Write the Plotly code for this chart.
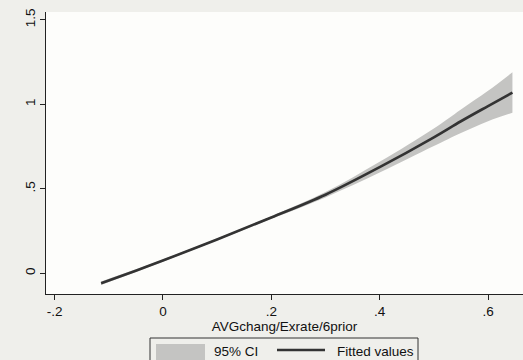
import plotly.graph_objects as go

# Data
x_vals = [-0.114, -0.05, 0.0, 0.1, 0.2, 0.3, 0.4, 0.5, 0.55, 0.6, 0.645]
fitted = [-0.059, 0.015, 0.075, 0.200, 0.330, 0.465, 0.628, 0.805, 0.900, 0.990, 1.070]
ci_half = [0.010, 0.008, 0.007, 0.005, 0.008, 0.016, 0.032, 0.052, 0.070, 0.090, 0.120]

x_ticks = [-0.2, 0, 0.2, 0.4, 0.6]
x_ticktext = ["-.2", "0", ".2", ".4", ".6"]
y_ticks = [0, 0.5, 1, 1.5]
y_ticktext = ["0", ".5", "1", "1.5"]

upper = [f + h for f, h in zip(fitted, ci_half)]
lower = [f - h for f, h in zip(fitted, ci_half)]

CI_COLOR = "#c4c4c2"
LINE_COLOR = "#333333"

fig = go.Figure()
fig.add_trace(go.Scatter(x=x_vals, y=upper, mode="lines", line=dict(width=0, color=CI_COLOR),
                         showlegend=False, hoverinfo="skip", line_shape="spline"))
fig.add_trace(go.Scatter(x=x_vals, y=lower, mode="lines", line=dict(width=0, color=CI_COLOR),
                         fill="tonexty", fillcolor=CI_COLOR, name="95% CI", line_shape="spline",
                         showlegend=False))
fig.add_trace(go.Scatter(x=x_vals, y=fitted, mode="lines", line=dict(width=2.6, color=LINE_COLOR),
                         name="Fitted values", line_shape="spline", showlegend=False))

font = dict(family="Liberation Sans, Arial, sans-serif", size=13.5, color="#111")

# Manual Stata-style legend (paper coordinates)
W, H, L, B = 477, 282, 46, 66
def px(x):
    return (x - L) / W
def py(y):
    return (360 - B - y) / H

shapes = [
    dict(type="rect", xref="paper", yref="paper", x0=px(150), x1=px(418), y0=py(338), y1=py(366),
         line=dict(color="#333", width=1), fillcolor="#efefeb", layer="above"),
    dict(type="rect", xref="paper", yref="paper", x0=px(156), x1=px(205), y0=py(344), y1=py(362),
         line=dict(width=0), fillcolor=CI_COLOR, layer="above"),
    dict(type="line", xref="paper", yref="paper", x0=px(277), x1=px(325), y0=py(350), y1=py(350),
         line=dict(color=LINE_COLOR, width=2.6), layer="above"),
]
annotations = [
    dict(text="95% CI", xref="paper", yref="paper", x=px(212), y=py(351), xanchor="left",
         yanchor="middle", showarrow=False, font=font),
    dict(text="Fitted values", xref="paper", yref="paper", x=px(335), y=py(351), xanchor="left",
         yanchor="middle", showarrow=False, font=font),
]

fig.update_layout(
    width=523, height=360,
    margin=dict(l=L, r=0, t=12, b=B),
    paper_bgcolor="#efefeb",
    plot_bgcolor="#fdfdfb",
    font=font,
    showlegend=False,
    shapes=shapes,
    annotations=annotations,
    xaxis=dict(range=[-0.2157, 0.6645], tickvals=x_ticks, ticktext=x_ticktext,
               showgrid=False, zeroline=False, showline=True, linecolor="#222", linewidth=1,
               ticks="outside", ticklen=5, tickcolor="#222",
               title=dict(text="AVGchang/Exrate/6prior", standoff=0, font=font)),
    yaxis=dict(range=[-0.123, 1.547], tickvals=y_ticks, ticktext=y_ticktext,
               showgrid=False, zeroline=False, showline=True, linecolor="#222", linewidth=1,
               ticks="outside", ticklen=5, tickcolor="#222", tickangle=-90),
)

fig.write_html("out.html", config={"displayModeBar": False},
               post_script="document.body.style.margin='0';document.body.style.overflow='hidden';")
